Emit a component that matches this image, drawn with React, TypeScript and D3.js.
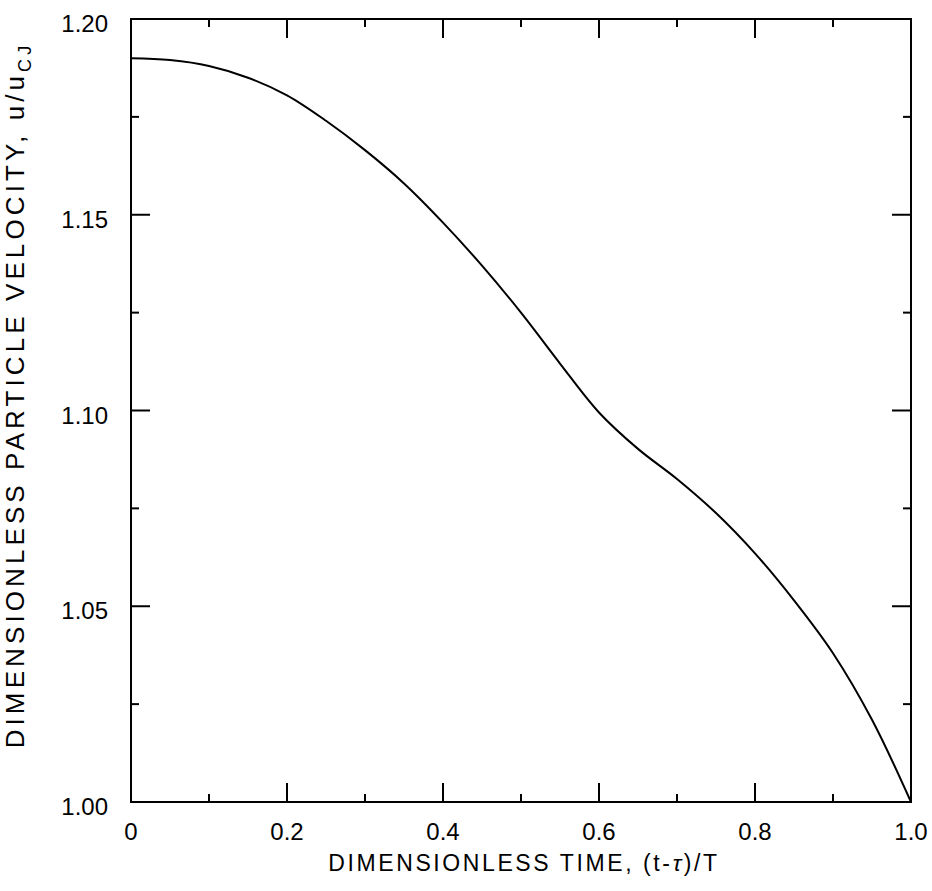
import React from "react";
import * as d3 from "d3";

const timeValues = [0, 0.05, 0.1, 0.15, 0.2, 0.25, 0.3, 0.35, 0.4, 0.45, 0.5, 0.55, 0.6, 0.65, 0.7, 0.75, 0.8, 0.85, 0.9, 0.95, 1.0];
const velocityValues = [1.19, 1.1895, 1.188, 1.185, 1.1805, 1.174, 1.1665, 1.158, 1.148, 1.137, 1.125, 1.112, 1.0995, 1.0902, 1.0825, 1.0738, 1.0635, 1.0515, 1.038, 1.021, 1.0];
const xMajorTicks = [0, 0.2, 0.4, 0.6, 0.8, 1.0];
const xMinorTicks = [0.1, 0.3, 0.5, 0.7, 0.9];
const yMajorTicks = [1.0, 1.05, 1.1, 1.15, 1.2];
const yMinorTicks = [1.025, 1.075, 1.125, 1.175];

export default function App() {
  const W = 932, H = 891;
  const L = 131, R = 911, T = 19, B = 802;
  const x = d3.scaleLinear().domain([0, 1]).range([L, R]);
  const y = d3.scaleLinear().domain([1.0, 1.2]).range([B, T]);
  const data = timeValues.map((t, i) => [t, velocityValues[i]] as [number, number]);
  const line = d3.line<[number, number]>().x(d => x(d[0])).y(d => y(d[1])).curve(d3.curveCatmullRom.alpha(0.5));
  const major = 19, minor = 8;
  const font = "'Liberation Sans', Arial, Helvetica, sans-serif";
  return (
    <svg width={W} height={H} style={{ position: "absolute", left: 0, top: 0, background: "#fff" }}>
      <rect x={L} y={T} width={R - L} height={B - T} fill="none" stroke="#000" strokeWidth={2} />
      {xMajorTicks.map(t => (
        <g key={"xM" + t}>
          <line x1={x(t)} x2={x(t)} y1={B} y2={B - major} stroke="#000" strokeWidth={2} />
          <line x1={x(t)} x2={x(t)} y1={T} y2={T + major} stroke="#000" strokeWidth={2} />
          <text x={x(t)} y={840} textAnchor="middle" fontFamily={font} fontSize={24}>{t === 0 ? "0" : t.toFixed(1)}</text>
        </g>
      ))}
      {xMinorTicks.map(t => (
        <g key={"xm" + t}>
          <line x1={x(t)} x2={x(t)} y1={B} y2={B - minor} stroke="#000" strokeWidth={2} />
          <line x1={x(t)} x2={x(t)} y1={T} y2={T + minor} stroke="#000" strokeWidth={2} />
        </g>
      ))}
      {yMajorTicks.map(v => (
        <g key={"yM" + v}>
          <line x1={L} x2={L + major} y1={y(v)} y2={y(v)} stroke="#000" strokeWidth={2} />
          <line x1={R} x2={R - major} y1={y(v)} y2={y(v)} stroke="#000" strokeWidth={2} />
          <text x={108} y={y(v) + 13} textAnchor="end" fontFamily={font} fontSize={24}>{v.toFixed(2)}</text>
        </g>
      ))}
      {yMinorTicks.map(v => (
        <g key={"ym" + v}>
          <line x1={L} x2={L + minor} y1={y(v)} y2={y(v)} stroke="#000" strokeWidth={2} />
          <line x1={R} x2={R - minor} y1={y(v)} y2={y(v)} stroke="#000" strokeWidth={2} />
        </g>
      ))}
      <path d={line(data) || ""} fill="none" stroke="#000" strokeWidth={2} />
      <text x={524} y={871} textAnchor="middle" fontFamily={font} fontSize={23} letterSpacing={2.6}>
        DIMENSIONLESS TIME, (t-<tspan fontStyle="italic">τ</tspan>)/T
      </text>
      <text transform="translate(24,395) rotate(-90)" textAnchor="middle" fontFamily={font} fontSize={26} letterSpacing={4.1}>
        DIMENSIONLESS PARTICLE VELOCITY, u/u<tspan fontSize={18} dy={7}>CJ</tspan>
      </text>
    </svg>
  );
}
